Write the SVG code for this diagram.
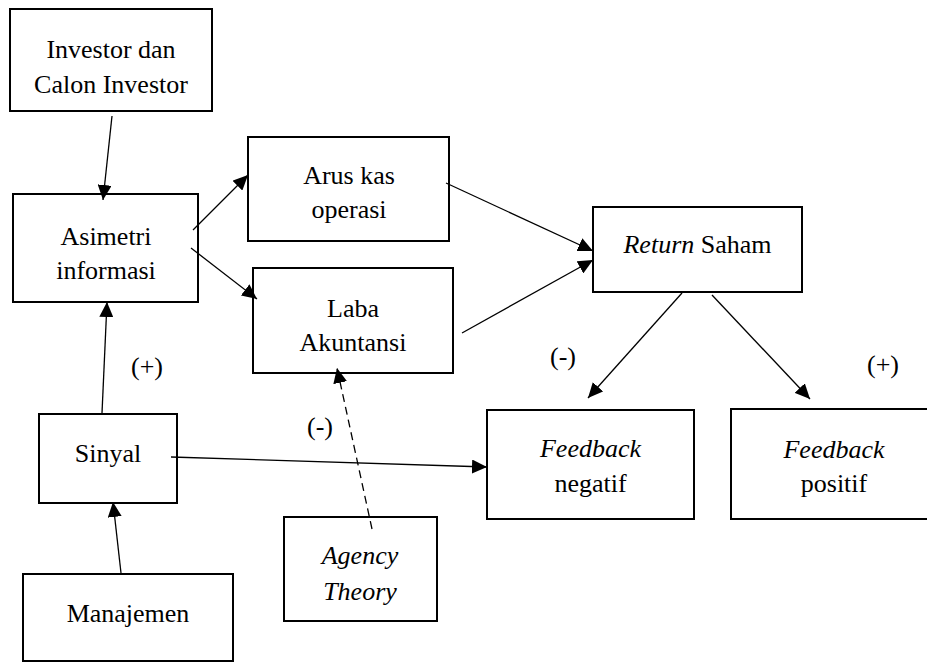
<svg xmlns="http://www.w3.org/2000/svg" width="927" height="662" viewBox="0 0 927 662">
<defs>
<style>
.box{fill:#fff;stroke:#000;stroke-width:2}
.t{font-family:'Liberation Serif','DejaVu Serif',serif;font-size:26px;fill:#000;text-anchor:middle}
.i{font-style:italic}
.c{stroke:#000;stroke-width:1.3;fill:none;marker-end:url(#ah)}
.d{stroke-dasharray:8 5}
</style>
<marker id="ah" markerUnits="userSpaceOnUse" markerWidth="16" markerHeight="14" refX="15" refY="7" orient="auto">
<path d="M0,0 L15,7 L0,14 z" fill="#000"/>
</marker>
</defs>
<rect width="927" height="662" fill="#fff"/>
<g font-family="Liberation Serif, DejaVu Serif, serif" font-size="26">
<g id="investor"><rect class="box" x="10" y="9" width="202" height="102"/><text class="t" x="111" y="58">Investor dan</text><text class="t" x="111" y="93">Calon Investor</text></g>
<g id="asimetri"><rect class="box" x="13" y="194" width="185" height="108"/><text class="t" x="106" y="245">Asimetri</text><text class="t" x="106" y="279">informasi</text></g>
<g id="arus"><rect class="box" x="248" y="137" width="201" height="104"/><text class="t" x="349" y="184">Arus kas</text><text class="t" x="349" y="218">operasi</text></g>
<g id="laba"><rect class="box" x="253" y="268" width="200" height="105"/><text class="t" x="353" y="317">Laba</text><text class="t" x="353" y="351">Akuntansi</text></g>
<g id="return"><rect class="box" x="593" y="207" width="209" height="85"/><text class="t" x="697.5" y="253"><tspan class="i">Return</tspan> Saham</text></g>
<g id="fneg"><rect class="box" x="487" y="410" width="207" height="109"/><text class="t i" x="590.5" y="457">Feedback</text><text class="t" x="590.5" y="492">negatif</text></g>
<g id="fpos"><rect class="box" x="731" y="409" width="206" height="110"/><text class="t i" x="834" y="458">Feedback</text><text class="t" x="834" y="492">positif</text></g>
<g id="sinyal"><rect class="box" x="39" y="414" width="138" height="89"/><text class="t" x="108" y="462">Sinyal</text></g>
<g id="manajemen"><rect class="box" x="23" y="574" width="210" height="87"/><text class="t" x="128" y="622">Manajemen</text></g>
<g id="agency"><rect class="box" x="284" y="517" width="153" height="104"/><text class="t i" x="360" y="564">Agency</text><text class="t i" x="360" y="600">Theory</text></g>
<g id="labels">
<text class="t" x="147" y="375">(+)</text>
<text class="t" x="320" y="435">(-)</text>
<text class="t" x="563" y="365">(-)</text>
<text class="t" x="883" y="373">(+)</text>
</g>
</g>
<g id="connectors">
<line class="c" x1="112" y1="116" x2="103" y2="200"/>
<line class="c" x1="193" y1="230" x2="248" y2="175"/>
<line class="c" x1="191" y1="248" x2="257" y2="299"/>
<line class="c" x1="446" y1="183" x2="593" y2="251"/>
<line class="c" x1="462" y1="333" x2="593" y2="260"/>
<line class="c" x1="682" y1="293" x2="588" y2="398"/>
<line class="c" x1="712" y1="295" x2="810" y2="399"/>
<line class="c" x1="102" y1="413" x2="107" y2="302"/>
<line class="c" x1="171" y1="457" x2="487" y2="467"/>
<line class="c" x1="121" y1="573" x2="113" y2="502"/>
<line class="c d" x1="372" y1="529" x2="337" y2="368"/>
</g>
</svg>
